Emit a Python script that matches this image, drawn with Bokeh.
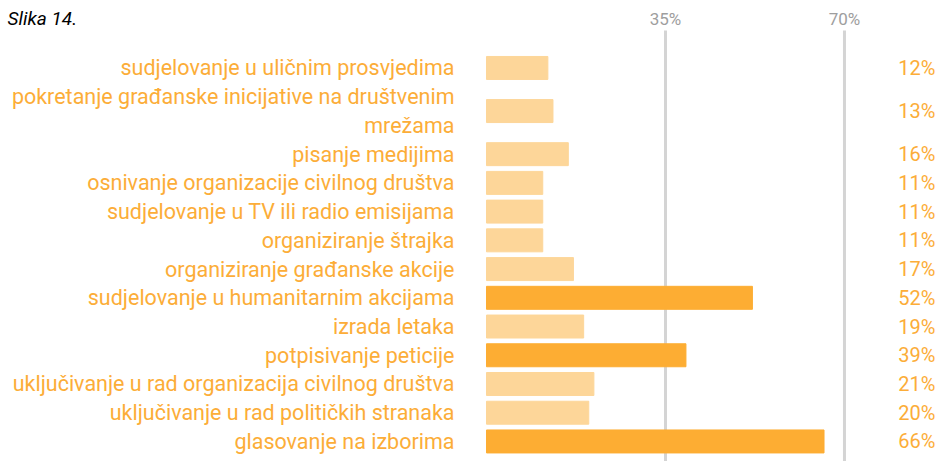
from bokeh.plotting import figure
from bokeh.models import Range1d, ColumnDataSource
from bokeh.core.properties import value
from bokeh.embed import file_html
from bokeh.resources import INLINE

title_text = "Slika 14."
categories = [
    "sudjelovanje u uličnim prosvjedima",
    "pokretanje građanske inicijative na društvenim\nmrežama",
    "pisanje medijima",
    "osnivanje organizacije civilnog društva",
    "sudjelovanje u TV ili radio emisijama",
    "organiziranje štrajka",
    "organiziranje građanske akcije",
    "sudjelovanje u humanitarnim akcijama",
    "izrada letaka",
    "potpisivanje peticije",
    "uključivanje u rad organizacija civilnog društva",
    "uključivanje u rad političkih stranaka",
    "glasovanje na izborima",
]
values = [12, 13, 16, 11, 11, 11, 17, 52, 19, 39, 21, 20, 66]
highlight = [False, False, False, False, False, False, False, True, False, True, False, False, True]
tick_values = [35, 70]
tick_labels = ["35%", "70%"]

ORANGE = "#fcad38"
DARK = "#fdad33"
LIGHT = "#fdd699"
GRID = "#d4d4d4"
FONT = value("Roboto")

W, H = 936, 461
# pixel geometry -> data ranges
ZERO_PX, PX_PER_PCT = 486, 5.114
ROW0_PX, PX_PER_ROW = 53.1, 28.73
X0 = -ZERO_PX / PX_PER_PCT
X1 = (W - ZERO_PX) / PX_PER_PCT
Y_TOP = -ROW0_PX / PX_PER_ROW
Y_BOT = (H - ROW0_PX) / PX_PER_ROW

def xpx(px):
    return (px - ZERO_PX) / PX_PER_PCT

def ypx(py):
    return (py - ROW0_PX) / PX_PER_ROW

# row layout: each label line takes one unit
pos = 0
centers, line_pos, line_labels = [], [], []
for c in categories:
    lines = c.split("\n")
    n = len(lines)
    centers.append(pos + n / 2)
    for i, l in enumerate(lines):
        line_pos.append(pos + i + 0.5)
        line_labels.append(l)
    pos += n

bars = ColumnDataSource(dict(
    y=centers, value=values,
    color=[DARK if h else LIGHT for h in highlight],
    pct=[f"{v}%" for v in values],
))

p = figure(width=W, height=H, output_backend="svg", toolbar_location=None,
           x_axis_type=None, y_axis_type=None,
           x_range=Range1d(X0, X1), y_range=Range1d(Y_BOT, Y_TOP),
           min_border=0)
p.min_border_left = p.min_border_right = p.min_border_top = p.min_border_bottom = 0
p.outline_line_color = None
p.xgrid.visible = False
p.ygrid.visible = False
p.background_fill_color = "white"
p.border_fill_color = "white"

# vertical reference lines
p.segment(x0=tick_values, x1=tick_values, y0=[ypx(30)] * len(tick_values),
          y1=[Y_BOT] * len(tick_values), line_color=GRID, line_width=3)

p.hbar(y="y", left=0, right="value", height=0.8, color="color", source=bars)

# tick labels on top
p.text(x=tick_values, y=[ypx(18)] * len(tick_values), text=tick_labels,
       text_font=FONT, text_font_size=value("17px"), text_color="#9e9e9e",
       text_align="center", text_baseline="middle")

# category labels
p.text(x=[xpx(454)] * len(line_pos), y=line_pos, text=line_labels,
       text_font=FONT, text_font_size=value("21.5px"), text_color=ORANGE,
       text_align="right", text_baseline="middle")

# percentage labels
p.text(x=xpx(935), y="y", text="pct", source=bars,
       text_font=FONT, text_font_size=value("20px"), text_color=ORANGE,
       text_align="right", text_baseline="middle")

# title
p.text(x=[xpx(7)], y=[ypx(18)], text=[title_text],
       text_font=FONT, text_font_style="italic", text_font_size=value("19px"),
       text_color="black", text_align="left", text_baseline="middle")

open("out.html", "w").write(file_html(p, INLINE))
